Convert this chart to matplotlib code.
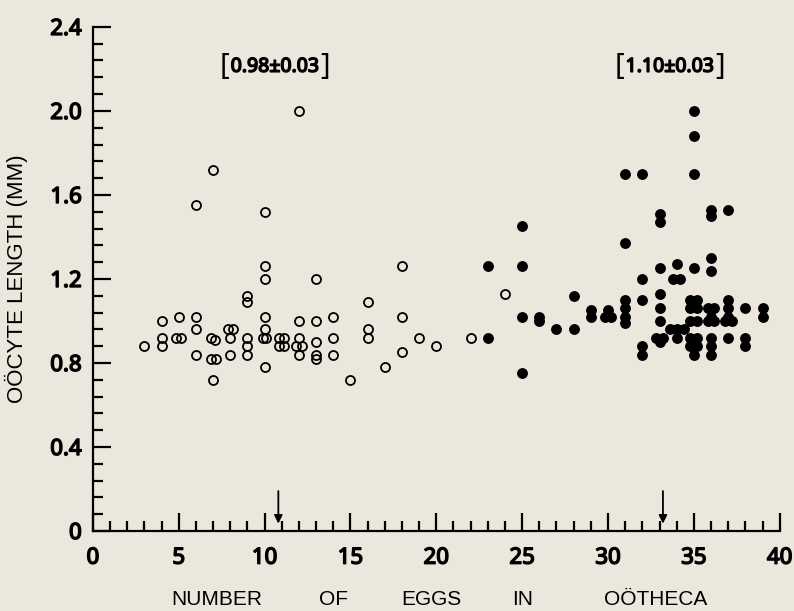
import matplotlib
matplotlib.use("Agg")
import matplotlib.pyplot as plt
import matplotlib.transforms as mtransforms
import matplotlib.patheffects as pe
from matplotlib.ticker import MultipleLocator

# values (number of eggs, oocyte length in mm)
open_x = [3, 4, 4, 4, 4.85, 5.15, 5,
          6, 6, 6, 6, 7, 6.85, 7.1, 6.85, 7.15, 7,
          7.85, 8.15, 8, 8, 9, 9, 9, 9, 9,
          10, 10, 10, 10, 10, 9.9, 10.1, 10, 10.85, 11.15, 10.85, 11.15,
          12, 12, 12, 11.85, 12.15, 12, 13, 13, 13, 13, 13,
          14, 14, 14, 15, 16, 16, 16, 17, 18, 18, 18, 19, 20, 22, 24]
open_y = [0.88, 1.00, 0.92, 0.88, 0.92, 0.92, 1.02,
          1.55, 1.02, 0.96, 0.84, 1.72, 0.92, 0.91, 0.82, 0.82, 0.72,
          0.96, 0.96, 0.92, 0.84, 1.12, 1.09, 0.92, 0.88, 0.84,
          1.52, 1.26, 1.20, 1.02, 0.96, 0.92, 0.92, 0.78, 0.92, 0.92, 0.88, 0.88,
          2.00, 1.00, 0.92, 0.88, 0.88, 0.84, 1.20, 1.00, 0.90, 0.84, 0.82,
          1.02, 0.92, 0.84, 0.72, 1.09, 0.96, 0.92, 0.78, 1.26, 1.02, 0.85, 0.92, 0.88, 0.92, 1.13]

filled_x = [23, 23, 25, 25, 25, 25, 26, 26, 27, 28, 28, 29, 29, 29.85, 30.15, 30,
            31, 31, 31, 31, 31, 31, 32, 32, 32, 32, 32,
            33, 33, 33, 33, 33, 33, 32.8, 33.2, 33,
            34, 33.8, 34.2, 33.6, 34, 34.4, 34,
            35, 35, 35, 35, 34.8, 35.2, 34.8, 35.2, 34.8, 35.2, 34.8, 35.2, 34.8, 35.2, 35,
            36, 36, 36, 36, 35.8, 36.2, 36, 35.8, 36.2, 36, 36, 36,
            37, 37, 37, 37, 36.8, 37.2, 37, 38, 38, 38, 39, 39]
filled_y = [1.26, 0.92, 1.45, 1.26, 1.02, 0.75, 1.02, 1.00, 0.96, 1.12, 0.96, 1.05, 1.02, 1.02, 1.02, 1.05,
            1.70, 1.37, 1.10, 1.06, 1.02, 0.99, 1.70, 1.20, 1.10, 0.88, 0.84,
            1.51, 1.47, 1.25, 1.13, 1.06, 1.00, 0.92, 0.92, 0.90,
            1.27, 1.20, 1.20, 0.96, 0.96, 0.96, 0.92,
            2.00, 1.88, 1.70, 1.25, 1.10, 1.10, 1.06, 1.06, 1.00, 1.00, 0.92, 0.92, 0.88, 0.88, 0.84,
            1.53, 1.50, 1.30, 1.24, 1.06, 1.06, 1.02, 1.00, 1.00, 0.92, 0.88, 0.84,
            1.53, 1.10, 1.06, 1.02, 1.00, 1.00, 0.92, 1.06, 0.92, 0.88, 1.06, 1.02]

arrow_x = [10.8, 33.2]
mean_labels = ["0.98\u00b10.03", "1.10\u00b10.03"]
mean_label_x = [10.6, 33.6]
y_ticks = [0, 0.4, 0.8, 1.2, 1.6, 2.0, 2.4]
y_ticklabels = ["0", "0.4", "0.8", "1.2", "1.6", "2.0", "2.4"]
x_words = ["NUMBER", "OF", "EGGS", "IN", "O\u00d6THECA"]
x_word_pos = [7.2, 14.0, 19.7, 25.0, 32.8]

BG = "#ece7dc"
COND = ["Noto Sans", "DejaVu Sans"]
BOLD = [pe.withStroke(linewidth=1.1, foreground="black")]
plt.rcParams["font.family"] = ["Liberation Sans", "DejaVu Sans"]

fig = plt.figure(figsize=(7.94, 6.11), dpi=100, facecolor=BG)
ax = fig.add_axes([0.117, 0.131, 0.865, 0.825], facecolor=BG)

ax.plot(open_x, open_y, "o", ms=6.5, mfc="none", mec="black", mew=1.3)
ax.plot(filled_x, filled_y, "o", ms=6.8, mfc="black", mec="black")

for xa in arrow_x:
    ax.annotate("", xy=(xa, 0.035), xytext=(xa, 0.19),
                arrowprops=dict(arrowstyle="-|>", color="black", lw=1.3,
                                mutation_scale=12, shrinkA=0, shrinkB=0))
for xt, lab in zip(mean_label_x, mean_labels):
    t = ax.text(xt, 2.21, lab, ha="center", va="center", fontsize=14,
                family=COND, stretch="condensed", path_effects=BOLD)
    # tall square brackets around the mean value
    ax.annotate("[", xy=(0, 0.5), xycoords=t, xytext=(-1, 0), textcoords="offset points",
                ha="right", va="center", fontsize=21, family=COND, stretch="condensed")
    ax.annotate("]", xy=(1, 0.5), xycoords=t, xytext=(1, 0), textcoords="offset points",
                ha="left", va="center", fontsize=21, family=COND, stretch="condensed")

ax.set_xlim(0, 40)
ax.set_ylim(0, 2.4)
for side in ("top", "right"):
    ax.spines[side].set_visible(False)
for side in ("left", "bottom"):
    ax.spines[side].set_linewidth(1.6)

ax.xaxis.set_major_locator(MultipleLocator(5))
ax.xaxis.set_minor_locator(MultipleLocator(1))
ax.set_yticks(y_ticks)
ax.set_yticklabels(y_ticklabels)
ax.yaxis.set_minor_locator(MultipleLocator(0.08))
ax.tick_params(which="major", direction="in", length=13, width=1.6)
ax.tick_params(which="minor", direction="in", length=7, width=1.6)
ax.tick_params(axis="x", which="major", pad=12)
ax.tick_params(axis="y", which="major", pad=8)
for lab in ax.get_xticklabels() + ax.get_yticklabels():
    lab.set_family(COND)
    lab.set_stretch("condensed")
    lab.set_fontsize(16)
    lab.set_path_effects(BOLD)

ax.set_ylabel("O\u00d6CYTE LENGTH (MM)", fontsize=16, labelpad=16)

trans = mtransforms.blended_transform_factory(ax.transData, ax.transAxes)
for xw, word in zip(x_word_pos, x_words):
    ax.text(xw, -0.135, word, transform=trans, ha="center", va="center", fontsize=15)

fig.savefig("out.png", dpi=100, facecolor=BG)
